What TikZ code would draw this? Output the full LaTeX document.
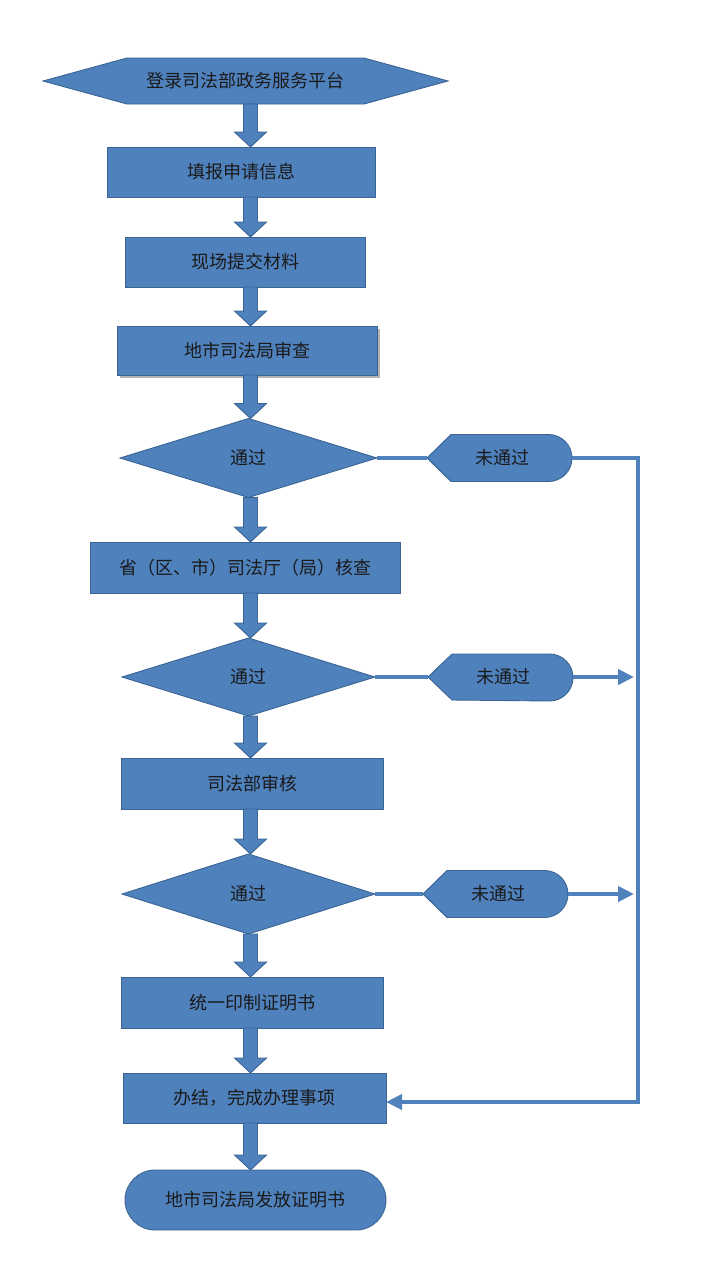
\documentclass[tikz,border=0pt]{standalone}
\usepackage{fontspec}
\setmainfont{Noto Sans CJK SC}
\usetikzlibrary{shapes.geometric,arrows.meta,calc,shadows}
\pgfdeclarelayer{background}
\pgfsetlayers{background,main}
\definecolor{boxfill}{HTML}{4F81BD}
\definecolor{boxline}{HTML}{3A6494}
\definecolor{txt}{HTML}{1A1A1A}
\newcommand\blockarr[2]{%
  \path[barrow] let \p1=(#1), \p2=(#2) in
    (243.5pt,\y1) -- (243.5pt,{\y2+15pt}) -- (234.5pt,{\y2+15pt}) --
    (250.5pt,\y2) -- (266.5pt,{\y2+15pt}) -- (257.5pt,{\y2+15pt}) --
    (257.5pt,\y1) -- cycle;}
\begin{document}
\begin{tikzpicture}[x=1pt,y=-1pt,
  every node/.style={font=\fontsize{18pt}{21pt}\selectfont, text=txt, inner sep=0pt, outer sep=0pt},
  shapefill/.style={fill=boxfill, draw=boxline, line width=0.9pt},
  box/.style={shapefill, rectangle, minimum height=50pt},
  decision/.style={shapefill, diamond, aspect=3.2},
  plain/.style={rectangle},
  terminal/.style={shapefill, rectangle, rounded corners=30pt, minimum height=60pt},
  barrow/.style={fill=boxfill, draw=boxline, line width=0.9pt, line join=miter},
  conn/.style={draw=boxfill, line width=4pt, line join=miter},
  tip/.style={-{Triangle[width=15pt,length=16pt]}}
]
\useasboundingbox (0,0) rectangle (715,1280);

% start hexagon
\node[plain, minimum width=405pt, minimum height=46pt] (start) at (245.5,81) {登录司法部政务服务平台};
\begin{pgfonlayer}{background}
\path[shapefill] (start.west) -- ([xshift=84pt]start.north west) -- ([xshift=-84pt]start.north east)
  -- (start.east) -- ([xshift=-84pt]start.south east) -- ([xshift=84pt]start.south west) -- cycle;
\end{pgfonlayer}

\node[box, minimum width=268pt] (b1) at (241,172) {填报申请信息};
\node[box, minimum width=240pt] (b2) at (245,262) {现场提交材料};
\node[box, minimum width=260pt, minimum height=49pt,
  drop shadow={shadow xshift=2.5pt, shadow yshift=-2.5pt, fill=black, opacity=0.3}] (b3) at (247,350.5) {地市司法局审查};
\node[decision, minimum width=257pt, minimum height=79pt] (d1) at (248.5,458) {通过};
\node[box, minimum width=310pt, minimum height=51pt] (b4) at (245,567.5) {省（区、市）司法厅（局）核查};
\node[decision, minimum width=253pt, minimum height=78pt] (d2) at (248.5,677) {通过};
\node[box, minimum width=262pt, minimum height=51pt] (b5) at (252,783.5) {司法部审核};
\node[decision, minimum width=253pt, minimum height=80pt] (d3) at (248.5,894) {通过};
\node[box, minimum width=262pt, minimum height=51pt] (b6) at (252,1002.5) {统一印制证明书};
\node[box, minimum width=263pt] (b7) at (254.5,1098) {办结，完成办理事项};
\node[terminal, minimum width=261pt] (t) at (255.5,1200) {地市司法局发放证明书};

% "未通过" display shapes
\node[plain, minimum width=145pt, minimum height=47pt] (n1) at (499.5,458) {\hspace*{6pt}未通过};
\node[plain, minimum width=145pt, minimum height=46pt] (n2) at (500.5,677) {\hspace*{6pt}未通过};
\node[plain, minimum width=145pt, minimum height=47pt] (n3) at (495.5,894) {\hspace*{6pt}未通过};
\begin{pgfonlayer}{background}
\foreach \n in {n1,n2,n3}{
  \path[shapefill] (\n.west) -- ([xshift=24pt]\n.north west) -- ([xshift=-23.5pt]\n.north east)
    arc[start angle=90, end angle=-90, radius=23.5pt]
    -- ([xshift=24pt]\n.south west) -- cycle;
}
\end{pgfonlayer}

% block arrows
\blockarr{start.south}{b1.north}
\blockarr{b1.south}{b2.north}
\blockarr{b2.south}{b3.north}
\blockarr{b3.south}{d1.north}
\blockarr{d1.south}{b4.north}
\blockarr{b4.south}{d2.north}
\blockarr{d2.south}{b5.north}
\blockarr{b5.south}{d3.north}
\blockarr{d3.south}{b6.north}
\blockarr{b6.south}{b7.north}
\blockarr{b7.south}{t.north}

% thin connectors
\coordinate (c1) at (638,458);
\coordinate (c2) at (638,1102);
\coordinate (e2) at (634,677);
\coordinate (e3) at (634,894);
\draw[conn] (d1.east) -- (n1.west);
\draw[conn, tip] (n1.east) -- (c1) -- (c2) -- (b7.east |- c2);
\draw[conn] (d2.east) -- (n2.west);
\draw[conn, tip] (n2.east) -- (e2);
\draw[conn] (d3.east) -- (n3.west);
\draw[conn, tip] (n3.east) -- (e3);
\end{tikzpicture}
\end{document}
